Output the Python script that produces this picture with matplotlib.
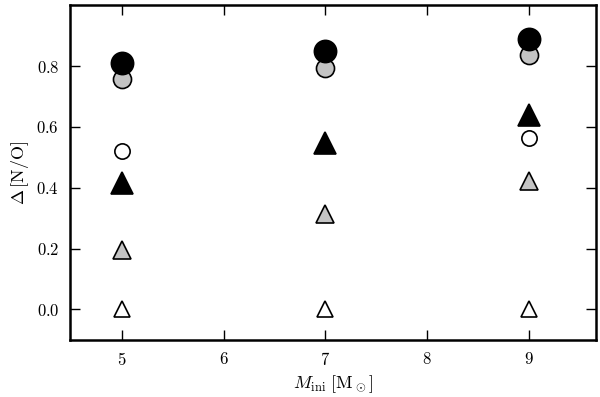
import matplotlib
matplotlib.use("Agg")
import matplotlib.pyplot as plt

plt.rcParams['mathtext.fontset'] = 'cm'
plt.rcParams['font.family'] = 'serif'
plt.rcParams['font.serif'] = ['cmr10', 'DejaVu Serif']
plt.rcParams['axes.formatter.use_mathtext'] = True

# Initial masses
masses = [5, 7, 9]
open_circle_masses = [5, 9]

# Delta [N/O] for the six model sets
black_circles = [0.81, 0.85, 0.89]
gray_circles = [0.757, 0.792, 0.836]
open_circles = [0.522, 0.563]
black_triangles = [0.415, 0.546, 0.638]
gray_triangles = [0.194, 0.312, 0.423]
open_triangles = [0.0, 0.0, 0.0]

fig = plt.figure(figsize=(6, 3.97), dpi=100)
ax = fig.add_axes([0.117, 0.144, 0.876, 0.843])

ax.plot(masses, open_triangles, '^', ms=11, mfc='white', mec='black', mew=1.2, ls='none')
ax.plot(masses, gray_triangles, '^', ms=13, mfc='#c4c4c4', mec='black', mew=1.2, ls='none')
ax.plot(open_circle_masses, open_circles, 'o', ms=11, mfc='white', mec='black', mew=1.2, ls='none')
ax.plot(masses, black_triangles, '^', ms=16, mfc='black', mec='black', mew=1.2, ls='none')
ax.plot(masses, gray_circles, 'o', ms=13, mfc='#c4c4c4', mec='black', mew=1.2, ls='none')
ax.plot(masses, black_circles, 'o', ms=16, mfc='black', mec='black', mew=1.2, ls='none')

ax.set_xlim(4.49, 9.66)
ax.set_ylim(-0.1, 1.0)
ax.set_xticks([5, 6, 7, 8, 9])
ax.set_xticklabels(['$5$', '$6$', '$7$', '$8$', '$9$'])
ax.set_yticks([0.0, 0.2, 0.4, 0.6, 0.8])
ax.set_yticklabels(['$0.0$', '$0.2$', '$0.4$', '$0.6$', '$0.8$'])

ax.tick_params(direction='in', length=7, width=1, labelsize=12, pad=8,
               top=True, right=True)
for s in ax.spines.values():
    s.set_linewidth(1.8)

ax.set_xlabel(r'$M_{\rm ini}\ [\mathrm{M}_\odot]$', fontsize=13)
ax.set_ylabel(r'$\Delta\,[\mathrm{N/O}]$', fontsize=13)

plt.savefig("out.png", dpi=100)
